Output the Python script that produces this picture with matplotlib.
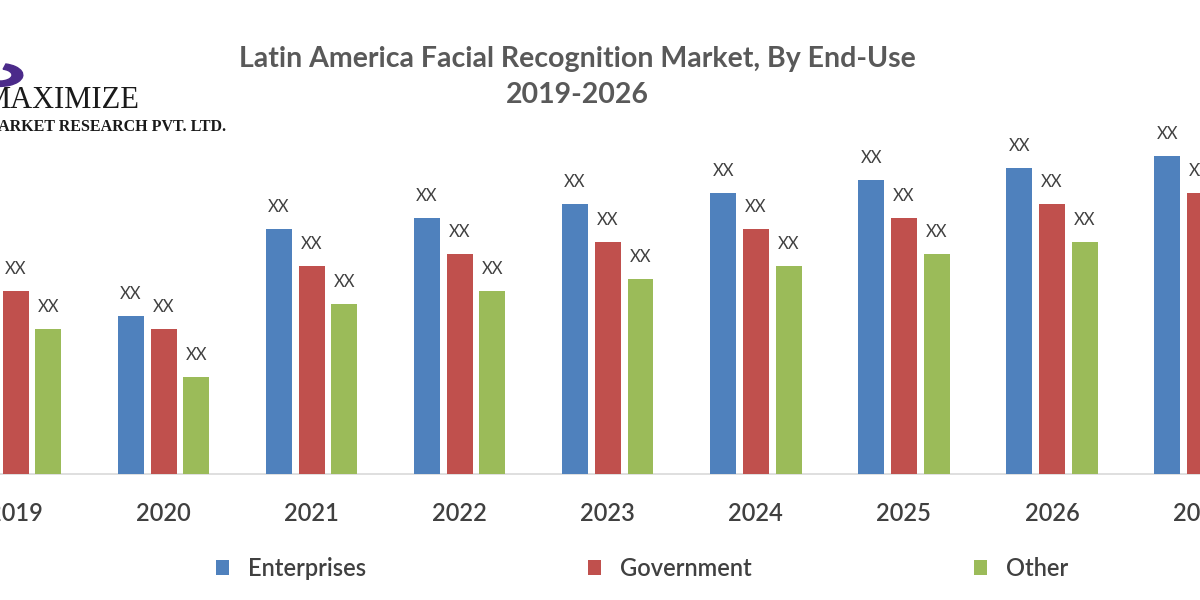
import numpy as np
import matplotlib.pyplot as plt
from matplotlib.patches import Wedge

years = ["2019", "2020", "2021", "2022", "2023", "2024", "2025", "2026", "2027"]
enterprises = [220, 158, 245, 256, 270, 281, 294, 306, 318]
government = [183, 145, 208, 220, 232, 245, 256, 270, 281]
other = [145, 97, 170, 183, 195, 208, 220, 232, 245]
series_names = ["Enterprises", "Government", "Other"]
colors = ["#4F81BD", "#C0504D", "#9BBB59"]

plt.rcParams["font.family"] = ["Lato", "DejaVu Sans"]
text_color = "#595959"

fig = plt.figure(figsize=(12, 6), dpi=100)
ax = fig.add_axes([0, 0.21, 1, 0.6233])

x = np.arange(len(years))
width = 0.175
step = 0.221
for k, (vals, name, c) in enumerate(zip([enterprises, government, other], series_names, colors)):
    bars = ax.bar(x + (k - 1) * step, vals, width, color=c, label=name, zorder=3)
    for b in bars:
        ax.annotate("XX", (b.get_x() + b.get_width() / 2, b.get_height()),
                    xytext=(0, 16), textcoords="offset points", ha="center", va="center",
                    fontsize=12, color="#404040", annotation_clip=False)

ax.set_xlim(-0.105, 7.933)
ax.set_ylim(0, 374)
for s in ["top", "right", "left"]:
    ax.spines[s].set_visible(False)
ax.spines["bottom"].set_color("#D9D9D9")
ax.spines["bottom"].set_linewidth(1.2)
ax.set_yticks([])
ax.set_xticks(x)
ax.set_xticklabels(years, fontsize=17, color="#404040", fontweight="semibold")
ax.tick_params(axis="x", length=0, pad=20)

fig.text(0.481, 0.872, "Latin America Facial Recognition Market, By End-Use\n2019-2026",
         ha="center", va="center", fontsize=20.5, color=text_color, linespacing=1.45,
         fontweight="bold")

# logo
fig.text(-0.014, 0.833, "MAXIMIZE", fontsize=22, family="Liberation Serif",
         color="#1a1a1a", ha="left", va="center")
fig.text(-0.014, 0.788, "MARKET RESEARCH PVT. LTD.", fontsize=11.5, family="Liberation Serif",
         fontweight="bold", color="#1a1a1a", ha="left", va="center")
fig.patches.append(Wedge((0.0, 0.875), 0.019, 210, 75, width=0.009, color="#4B2A8A",
                         transform=fig.transFigure, figure=fig))

fig.legend(loc="center", bbox_to_anchor=(0.535, 0.053), ncol=3, frameon=False,
           fontsize=17, handlelength=0.55, handleheight=0.6, handletextpad=0.8,
           columnspacing=9.4, labelcolor="#404040", prop={"weight": "semibold", "size": 17})

fig.savefig("out.png", dpi=100)
